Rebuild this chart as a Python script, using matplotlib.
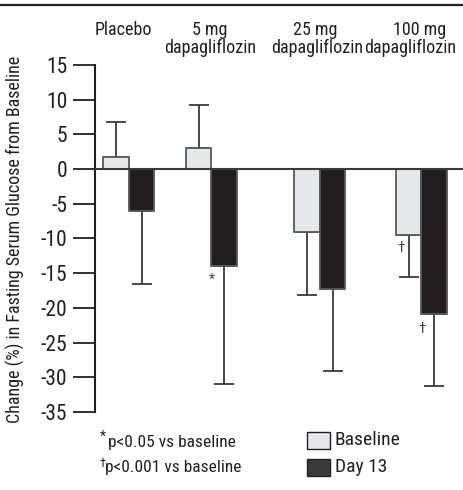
import matplotlib
matplotlib.use("Agg")
import matplotlib.pyplot as plt
from matplotlib.font_manager import fontManager

names = {f.name for f in fontManager.ttflist}
main_font = "Roboto Condensed" if "Roboto Condensed" in names else "Liberation Sans"
plt.rcParams['font.family'] = [main_font, 'DejaVu Sans']

# ---- data ----
groups = ["Placebo", "5 mg\ndapagliflozin", "25 mg\ndapagliflozin", "100 mg\ndapagliflozin"]
baseline = [1.7, 3.0, -9.0, -9.5]
baseline_err = [5.1, 6.3, 9.2, 6.1]
day13 = [-6.1, -13.9, -17.3, -20.9]
day13_err = [10.4, 17.0, 11.8, 10.3]
series_names = ["Baseline", "Day 13"]
yticks = [15, 10, 5, 0, -5, -10, -15, -20, -25, -30, -35]

# ---- layout ----
W, H = 464, 490
fig = plt.figure(figsize=(W / 100, H / 100), dpi=100)
ax = fig.add_axes([95 / W, (H - 412) / H, (W - 95) / W, (412 - 65) / H])
ax.set_xlim(95, 464)
ax.set_ylim(-35, 15)

centers = [129, 211.5, 320, 421.5]
bw = 25.5
c_base = "#e6e7e8"
c_day = "#231f20"
edge = "#58595b"

for i, c in enumerate(centers):
    xb = c - bw / 2
    xd = c + bw / 2
    ax.bar(xb, baseline[i], width=bw, color=c_base, edgecolor=edge, linewidth=1.3, zorder=2)
    ax.bar(xd, day13[i], width=bw, color=c_day, edgecolor=edge, linewidth=1.3, zorder=2)
    s = 1 if baseline[i] >= 0 else -1
    ax.errorbar(xb, baseline[i], yerr=[[baseline_err[i]] if s < 0 else [0], [baseline_err[i]] if s > 0 else [0]],
                fmt="none", ecolor="#3a3a3a", elinewidth=1.3, capsize=7, capthick=1.3, zorder=1)
    ax.errorbar(xd, day13[i], yerr=[[day13_err[i]], [0]],
                fmt="none", ecolor="#3a3a3a", elinewidth=1.3, capsize=7, capthick=1.3, zorder=1)

ax.axhline(0, color="#3a3a3a", lw=1.5, zorder=3)

# significance marks
ax.text(centers[1] + 0.5, day13[1] - 2.0, "*", ha="center", va="center", fontsize=10, color="#444")
ax.text(centers[3] - bw / 2 - 7.5, baseline[3] - 1.9, "†", ha="center", va="center", fontsize=11, color="#444")
ax.text(centers[3] + 0.5, day13[3] - 2.2, "†", ha="center", va="center", fontsize=11, color="#444")

# spines/ticks
for sp in ["top", "right", "bottom"]:
    ax.spines[sp].set_visible(False)
ax.spines["left"].set_linewidth(1.5)
ax.spines["left"].set_color("#231f20")
ax.set_yticks(yticks)
ax.set_yticklabels([str(t) for t in yticks])
ax.tick_params(axis="y", length=16, width=1.3, pad=4, labelsize=15.5, colors="#231f20")
ax.set_xticks([])
ax.patch.set_alpha(0)

# category labels (one text per line)
line1_x = [123, 210, 315, 420]
line2_x = [123, 210, 317, 410]
for i, g in enumerate(groups):
    parts = g.split("\n")
    fig.text(line1_x[i] / W, 1 - 30 / H, parts[0], ha="center", va="center", fontsize=13, color="#231f20")
    if len(parts) > 1:
        fig.text(line2_x[i] / W, 1 - 47.5 / H, parts[1], ha="center", va="center", fontsize=13, color="#231f20")

# y label
fig.text(15 / W, 1 - 239 / H, "Change (%) in Fasting Serum Glucose from Baseline", rotation=90,
         ha="center", va="center", fontsize=13, color="#231f20")

# top rule
fig.add_artist(plt.Line2D([0, 1], [1 - 5 / H, 1 - 5 / H], color="#231f20", lw=1.6))

# footnotes
fig.text(100 / W, 1 - 437 / H, "*", ha="left", va="center", fontsize=10, color="#231f20")
fig.text(108 / W, 1 - 442 / H, "p<0.05 vs baseline", ha="left", va="center", fontsize=12.5, color="#231f20")
fig.text(99 / W, 1 - 463 / H, "†", ha="left", va="center", fontsize=9, color="#231f20")
fig.text(105 / W, 1 - 467 / H, "p<0.001 vs baseline", ha="left", va="center", fontsize=12.5, color="#231f20")

# legend
for j, (nm, col) in enumerate(zip(series_names, [c_base, "#3a3a3a"])):
    yc = 440 + j * 27
    fig.add_artist(plt.Rectangle((307 / W, 1 - (yc + 8.5) / H), 23 / W, 17 / H,
                                 facecolor=col, edgecolor="#231f20", lw=1.0))
    fig.text(335 / W, 1 - yc / H, nm, ha="left", va="center", fontsize=14, color="#231f20")

fig.savefig("out.png", dpi=100)
